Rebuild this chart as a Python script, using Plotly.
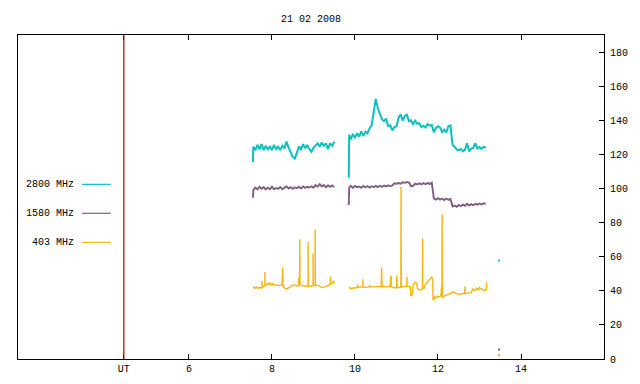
import plotly.graph_objects as go

# ---------------- data ----------------
title_text = "21 02 2008"
ut_mark = 4.43                      # hour of the "UT" marker line
x_tick_vals = [4.43, 6, 8, 10, 12, 14]
x_tick_text = ["UT", "6", "8", "10", "12", "14"]
y_tick_vals = [0, 20, 40, 60, 80, 100, 120, 140, 160, 180]

series_names = ["2800 MHz", "1580 MHz", "403 MHz"]

# sample times (hours UT), morning block and midday block
t_seg1 = [7.54, 7.55, 7.60, 7.65, 7.70, 7.75, 7.80, 7.85, 7.90, 7.95,
          8.00, 8.05, 8.10, 8.15, 8.20, 8.25, 8.30, 8.35, 8.40, 8.45,
          8.50, 8.55, 8.60, 8.65, 8.70, 8.75, 8.80, 8.85, 8.90, 8.95,
          9.00, 9.05, 9.10, 9.15, 9.20, 9.25, 9.30, 9.35, 9.40, 9.45, 9.50]
t_seg2 = [9.85, 9.86, 9.90, 9.95, 10.00, 10.05, 10.10, 10.15, 10.20, 10.25,
          10.30, 10.35, 10.40, 10.45, 10.50, 10.55, 10.60, 10.65, 10.70, 10.75,
          10.80, 10.85, 10.90, 10.95, 11.00, 11.05, 11.10, 11.15, 11.20, 11.25,
          11.30, 11.35, 11.40, 11.45, 11.50, 11.55, 11.60, 11.65, 11.70, 11.75,
          11.80, 11.85, 11.90, 11.95, 12.00, 12.05, 12.10, 12.15, 12.20, 12.25,
          12.30, 12.35, 12.40, 12.45, 12.50, 12.55, 12.60, 12.65, 12.70, 12.75,
          12.80, 12.85, 12.90, 12.95, 13.00, 13.05, 13.10, 13.15]

f2800_seg1 = [115.5, 124.5, 122.5, 125.5, 123, 126, 122.5, 125, 123, 124.5,
              122.5, 125.5, 123, 124.5, 122.5, 125, 123.5, 127.5, 124, 121,
              118.5, 117.5, 120.5, 124.5, 123, 126, 123.5, 125.5, 123, 121.5,
              124, 125.5, 126.5, 124.5, 127, 125, 126.5, 123, 126.5, 125, 127.5]
f2800_seg2 = [106.3, 131.5, 128.8, 132, 129.5, 132.5, 130.3, 133.5, 130.8, 133.2,
              132.3, 135.2, 136.8, 145.5, 152.5, 147, 144, 140.5, 139.5, 141,
              136.5, 137, 134, 136, 136.5, 141.5, 143.5, 139.8, 142.5, 143.2,
              139.5, 140, 137.5, 139.8, 138, 138.3, 136, 136.8, 135.8, 137.8,
              136.8, 137.2, 133, 135.5, 136.5, 135.8, 133, 134.5, 132.8, 136.5,
              137, 125.5, 124.5, 122.8, 122.5, 123.2, 121.8, 122.8, 126.5, 121.8,
              123.3, 123.8, 126.5, 123.5, 124.3, 123.2, 124.5, 123.8]

f1580_seg1 = [94.6, 99, 100.5, 99.5, 101, 99.8, 100.8, 99.5, 100.5, 99.6,
              101, 99.5, 100.3, 99.8, 100.8, 99.6, 100.5, 101.2, 100, 100.8,
              99.8, 100.6, 100.2, 101, 100, 101.2, 100.4, 101, 100.6, 101.3,
              100.5, 102, 101, 102.5, 101.2, 102, 100.8, 101.8, 101, 101.8, 100.8]
f1580_seg2 = [90.3, 100.5, 101.5, 100.3, 101.5, 100.8, 101.2, 100.4, 101.5, 100.6,
              101.4, 100.5, 101.3, 100.7, 101.5, 100.8, 101.6, 100.9, 101.7, 101.2,
              101.8, 101.3, 101.8, 103, 102.8, 103.2, 102.8, 103.6, 103.3, 103.8,
              103.5, 101.4, 101.6, 102.8, 102.3, 103, 102.4, 103.2, 102.5, 103.3,
              102.6, 103.4, 94.2, 93.5, 94.3, 93.5, 94, 93.2, 94.1, 93.4,
              93.8, 89.5, 90, 89.2, 90.3, 89.6, 90.5, 89.8, 91, 90,
              90.8, 90.2, 91, 90.5, 91.2, 90.6, 91.3, 91]

# 403 MHz has its own (burst-resolved) sample times
t403_seg1 = [7.54, 7.58, 7.62, 7.66, 7.70, 7.74, 7.76, 7.76, 7.765, 7.80,
             7.83, 7.83, 7.835, 7.87, 7.90, 7.93, 7.96, 7.99, 8.02, 8.05,
             8.09, 8.13, 8.17, 8.21, 8.24, 8.245, 8.26, 8.265, 8.30, 8.35,
             8.40, 8.45, 8.50, 8.55, 8.60, 8.64, 8.645, 8.665, 8.67, 8.675,
             8.72, 8.76, 8.80, 8.84, 8.87, 8.87, 8.875, 8.91, 8.95, 8.99,
             8.99, 8.995, 9.04, 9.04, 9.045, 9.08, 9.12, 9.16, 9.20, 9.24,
             9.28, 9.32, 9.36, 9.40, 9.41, 9.415, 9.45, 9.48, 9.51]
f403_seg1 = [42.3, 41.5, 42.3, 41.3, 42.0, 41.5, 42.0, 45.8, 41.8, 42.5,
             43.0, 51.0, 43.2, 43.5, 44.5, 43.5, 44.8, 43.4, 44.2, 43.2,
             43.6, 43.2, 43.4, 43.2, 43.3, 53.0, 53.6, 43.0, 41.8, 41.0,
             41.8, 42.8, 43.3, 43.3, 42.8, 43.0, 47.5, 47.5, 70.2, 43.5,
             43.2, 42.6, 42.5, 42.8, 42.8, 68.6, 42.6, 42.5, 43.0, 43.2,
             62.0, 43.0, 43.2, 76.0, 43.2, 43.3, 42.8, 42.3, 42.0, 42.0,
             42.3, 42.6, 43.2, 43.6, 48.3, 44.0, 44.2, 45.5, 44.5]
t403_seg2 = [9.855, 9.88, 9.91, 9.95, 9.99, 10.03, 10.06, 10.06, 10.065, 10.11,
             10.15, 10.19, 10.19, 10.195, 10.23, 10.27, 10.31, 10.35, 10.35, 10.355,
             10.40, 10.45, 10.50, 10.55, 10.60, 10.635, 10.64, 10.65, 10.655, 10.70,
             10.76, 10.80, 10.84, 10.845, 10.86, 10.87, 10.875, 10.92, 10.96, 11.00,
             11.01, 11.015, 11.05, 11.08, 11.105, 11.11, 11.115, 11.12, 11.125, 11.16,
             11.19, 11.25, 11.25, 11.255, 11.30, 11.335, 11.34, 11.37, 11.385, 11.40,
             11.43, 11.45, 11.49, 11.50, 11.53, 11.58, 11.625, 11.63, 11.635, 11.67,
             11.69, 11.72, 11.75, 11.78, 11.82, 11.84, 11.86, 11.875, 11.88, 11.90,
             11.92, 11.96, 12.00, 12.04, 12.07, 12.085, 12.095, 12.10, 12.105, 12.12,
             12.16, 12.20, 12.24, 12.28, 12.32, 12.36, 12.40, 12.44, 12.48, 12.52,
             12.56, 12.60, 12.645, 12.65, 12.655, 12.68, 12.72, 12.76, 12.80, 12.84,
             12.88, 12.93, 12.97, 13.00, 13.03, 13.07, 13.10, 13.12, 13.165, 13.17,
             13.172]
f403_seg2 = [41.3, 41.9, 41.0, 41.8, 41.5, 42.0, 42.0, 43.8, 42.0, 42.2,
             42.0, 42.2, 46.7, 42.2, 42.0, 42.0, 42.3, 42.3, 43.5, 42.3,
             42.3, 42.3, 42.5, 42.5, 42.5, 42.5, 53.6, 48.0, 42.5, 42.5,
             42.3, 42.3, 42.5, 45.0, 45.0, 49.0, 42.5, 42.0, 41.6, 42.2,
             49.0, 41.8, 41.9, 42.0, 42.0, 101.0, 42.0, 46.2, 42.3, 42.5,
             42.5, 42.5, 48.3, 42.5, 42.5, 42.5, 37.5, 37.2, 38.5, 43.5,
             44.2, 45.0, 44.5, 41.5, 40.8, 40.5, 41.0, 70.6, 41.5, 41.5,
             43.5, 44.5, 45.5, 46.2, 47.0, 48.0, 47.5, 47.0, 35.0, 34.5,
             36.5, 36.0, 36.8, 36.5, 37.0, 42.0, 37.0, 84.8, 36.5, 36.0,
             37.2, 37.5, 38.0, 38.3, 38.5, 39.5, 38.8, 38.5, 38.0, 37.8,
             38.2, 38.5, 38.5, 42.5, 38.5, 38.5, 38.5, 38.8, 39.0, 41.0,
             40.2, 41.5, 40.5, 42.0, 41.2, 41.0, 40.5, 40.0, 40.5, 44.8,
             41.0]

# stray single readings after the midday block
stray_t = [13.47]
stray_2800 = [57.7]
stray_1580 = [5.6]
stray_403 = [2.2]

colors = ["#0cc0c0", "#7f5f80", "#f7b50f"]
widths = [2.0, 1.9, 1.4]
ut_color = "#a00000"

# ---------------- figure ----------------
FONT = "Liberation Mono"
W, H = 632, 376          # page body has an 8 px margin; keep figure inside window
fig = go.Figure()

def seg_trace(xa, ya, xb, yb, color, width):
    return go.Scatter(x=xa + [None] + xb, y=ya + [None] + yb, mode="lines",
                      line=dict(color=color, width=width), connectgaps=False,
                      showlegend=False, hoverinfo="skip")

fig.add_trace(seg_trace(t403_seg1, f403_seg1, t403_seg2, f403_seg2, colors[2], widths[2]))
fig.add_trace(seg_trace(t_seg1, f1580_seg1, t_seg2, f1580_seg2, colors[1], widths[1]))
fig.add_trace(seg_trace(t_seg1, f2800_seg1, t_seg2, f2800_seg2, colors[0], widths[0]))

for vals, c in [(stray_2800, colors[0]), (stray_1580, colors[1]), (stray_403, colors[2])]:
    fig.add_trace(go.Scatter(x=stray_t, y=vals, mode="markers",
                             marker=dict(color=c, size=2, symbol="square"),
                             showlegend=False, hoverinfo="skip"))

# legend (gnuplot style: text then sample line)
leg_y = [0.539, 0.4497, 0.360]
shapes = []
annotations = []
for name, c, yy in zip(series_names, colors, leg_y):
    annotations.append(dict(text=name, xref="paper", yref="paper", x=0.0985, y=yy,
                            xanchor="right", yanchor="middle", showarrow=False,
                            font=dict(family=FONT, size=10, color="black")))
    shapes.append(dict(type="line", xref="paper", yref="paper", x0=0.1092, x1=0.1582,
                       y0=yy, y1=yy, line=dict(color=c, width=1.2)))

shapes.append(dict(type="line", xref="x", yref="paper", x0=ut_mark, x1=ut_mark,
                   y0=0, y1=1, line=dict(color=ut_color, width=1.2), layer="above"))

fig.update_layout(
    width=W, height=H,
    margin=dict(l=10, r=36, t=27, b=25),
    paper_bgcolor="white", plot_bgcolor="white",
    showlegend=False,
    font=dict(family=FONT, size=10, color="black"),
    title=dict(text=title_text, x=303 / W, xanchor="center",
               y=1 - 10 / H, yanchor="middle",
               font=dict(family=FONT, size=10, color="black")),
    shapes=shapes, annotations=annotations,
    xaxis=dict(range=[1.88, 16.0], tickvals=x_tick_vals, ticktext=x_tick_text,
               ticks="inside", ticklen=5, tickcolor="black", tickwidth=1,
               showline=True, linecolor="black", linewidth=1, mirror="ticks",
               showgrid=False, zeroline=False,
               tickfont=dict(family=FONT, size=10, color="black")),
    yaxis=dict(range=[0, 190], side="right", tickvals=y_tick_vals,
               ticks="inside", ticklen=5, tickcolor="black", tickwidth=1,
               showline=True, linecolor="black", linewidth=1, mirror=True,
               showgrid=False, zeroline=False, ticklabelstandoff=3,
               tickfont=dict(family=FONT, size=10, color="black")),
)

fig.write_html("out.html")
